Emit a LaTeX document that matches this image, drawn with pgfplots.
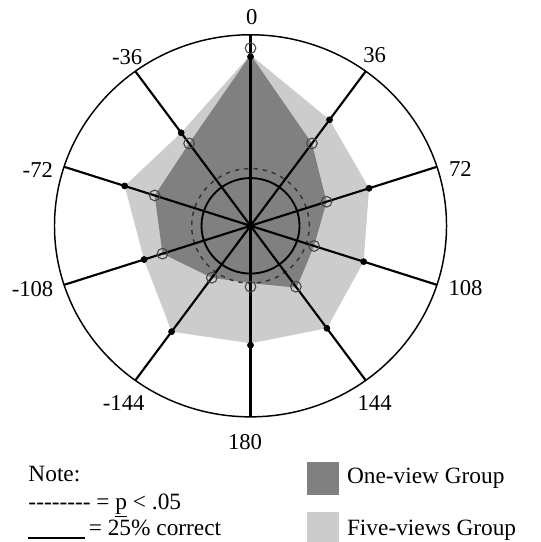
\documentclass[border=0pt]{standalone}
\usepackage{fontspec}
\setmainfont{Liberation Serif}
\usepackage{pgfplots}
\pgfplotsset{compat=1.18}
\usepackage{pgfplotstable}

\definecolor{darkfill}{HTML}{808080}
\definecolor{lightfill}{HTML}{CCCCCC}
\definecolor{ringgray}{HTML}{333333}
\definecolor{opengray}{HTML}{444444}

% theta: degrees clockwise from the top; r: percent correct
\pgfplotstableread{
theta r
0 93.0
36 53.3
72 40.8
108 34.1
144 39.4
180 31.9
-144 33.6
-108 47.2
-72 51.4
-36 53.3
}\oneview

\pgfplotstableread{
theta r
0 88.5
36 68.6
72 63.6
108 60.7
144 66.3
180 62.5
-144 68.5
-108 57.1
-72 67.5
-36 60.2
}\fiveview

% shaded areas
\pgfplotstableread{
theta r
0 89.5
36 53.3
72 40.8
108 34.1
144 40.0
180 30.0
-144 33.6
-108 47.2
-72 51.4
-36 53.3
0 89.5
}\darkpoly

\pgfplotstableread{
theta r
0 89.5
36 68.6
72 63.6
108 60.7
144 66.3
180 61.5
-144 68.5
-108 57.1
-72 67.5
-36 60.2
0 89.5
}\lightpoly

\newcommand{\lbl}{\fontsize{17}{20}\selectfont}
\newcommand{\lgd}{\fontsize{17.5}{21}\selectfont}

\begin{document}
\begin{tikzpicture}
\begin{axis}[
  scale only axis,
  width=405.75pt, height=406.5pt,
  xmin=-127.8, xmax=148.2, ymin=-165.5, ymax=118.2,
  hide axis, clip=false,
  data cs=polar,
]
% areas
\addplot[fill=lightfill, draw=none] table[x expr={90-\thisrow{theta}}, y=r] \lightpoly;
\addplot[fill=darkfill, draw=none] table[x expr={90-\thisrow{theta}}, y=r] \darkpoly;

% rings
\draw[line width=1.1pt] (axis cs:0,0) ellipse [x radius=100, y radius=100];
\draw[line width=1.4pt] (axis cs:0,0) ellipse [x radius=25, y radius=25];
\draw[line width=1.1pt, ringgray, dash pattern=on 3.2pt off 3.8pt] (axis cs:0,0) ellipse [x radius=30, y radius=30];

% spokes
\addplot[black, line width=1.6pt] coordinates {(90,0) (90,100)};
\addplot[black, line width=1.6pt] coordinates {(54,0) (54,100)};
\addplot[black, line width=1.6pt] coordinates {(18,0) (18,100)};
\addplot[black, line width=1.6pt] coordinates {(-18,0) (-18,100)};
\addplot[black, line width=1.6pt] coordinates {(-54,0) (-54,100)};
\addplot[black, line width=1.6pt] coordinates {(-90,0) (-90,100)};
\addplot[black, line width=1.6pt] coordinates {(-126,0) (-126,100)};
\addplot[black, line width=1.6pt] coordinates {(-162,0) (-162,100)};
\addplot[black, line width=1.6pt] coordinates {(162,0) (162,100)};
\addplot[black, line width=1.6pt] coordinates {(126,0) (126,100)};

% markers
\addplot[only marks, mark=*, mark size=2.3pt, black] table[x expr={90-\thisrow{theta}}, y=r] \fiveview;
\addplot[only marks, mark=o, mark size=4pt, mark options={draw=opengray, fill=none, line width=0.8pt}] table[x expr={90-\thisrow{theta}}, y=r] \oneview;

% angle labels
\node[font=\lbl] at (axis cs:0.7,109.4) {0};
\node[font=\lbl] at (axis cs:63.3,89.4) {36};
\node[font=\lbl] at (axis cs:107.1,29.7) {72};
\node[font=\lbl] at (axis cs:109.7,-32.7) {108};
\node[font=\lbl] at (axis cs:63.3,-92.6) {144};
\node[font=\lbl] at (axis cs:-2.8,-113.0) {180};
\node[font=\lbl] at (axis cs:-64.7,-92.9) {-144};
\node[font=\lbl] at (axis cs:-111.2,-33.2) {-108};
\node[font=\lbl] at (axis cs:-108.5,29.2) {-72};
\node[font=\lbl] at (axis cs:-62.9,88.5) {-36};

% note
\node[font=\lgd, anchor=base west, inner sep=0pt] at (axis cs:-113.4,-134.0) {Note:};
\node[font=\lgd, anchor=base west, inner sep=0pt] at (axis cs:-113.4,-148.4) {-{}-{}-{}-{}-{}-{}-{}- = \underline{p} < .05};
\node[font=\lgd, anchor=base west, inner sep=0pt] at (axis cs:-113.4,-161.9) {\rule[-2.6pt]{42.75pt}{1.3pt}\hspace{2.5pt}= 25\% correct};

% legend
\fill[darkfill] (axis cs:28.7,-123.5) rectangle (axis cs:45.3,-140.9);
\fill[lightfill] (axis cs:28.7,-149.7) rectangle (axis cs:45.3,-165.5);
\node[font=\lgd, anchor=base west, inner sep=0pt] at (axis cs:49.1,-134.8) {One-view Group};
\node[font=\lgd, anchor=base west, inner sep=0pt] at (axis cs:49.1,-161.9) {Five-views Group};
\end{axis}
\pgfresetboundingbox
\path (current axis.south west) rectangle (current axis.north east);
\end{tikzpicture}
\end{document}
